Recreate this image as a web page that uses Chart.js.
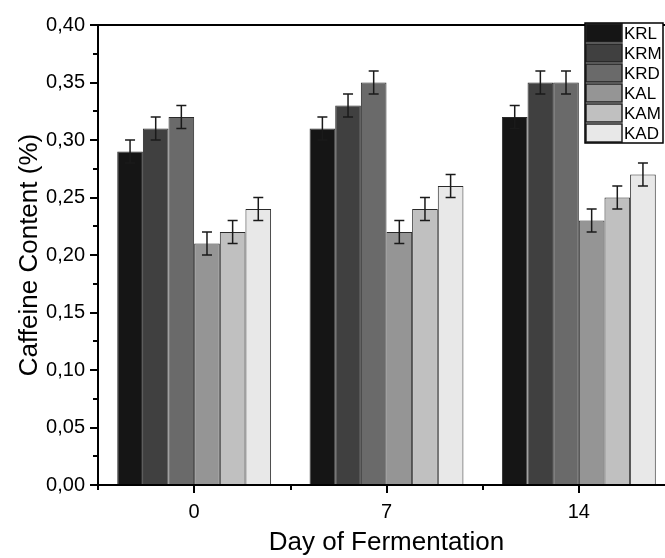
<!DOCTYPE html>
<html>
<head>
<meta charset="utf-8">
<script src="https://cdn.jsdelivr.net/npm/chart.js"></script>
<style>
  html, body { margin: 0; padding: 0; background: #fff; overflow: hidden; }
  #wrap { width: 680px; height: 558px; }
</style>
</head>
<body>
<div id="wrap"><canvas id="caffeineChart" width="680" height="558"></canvas></div>
<script>
// data
const days = ['0', '7', '14'];
const seriesNames = ['KRL', 'KRM', 'KRD', 'KAL', 'KAM', 'KAD'];
const KRL = [0.29, 0.31, 0.32];
const KRM = [0.31, 0.33, 0.35];
const KRD = [0.32, 0.35, 0.35];
const KAL = [0.21, 0.22, 0.23];
const KAM = [0.22, 0.24, 0.25];
const KAD = [0.24, 0.26, 0.27];
const errKRL = [0.01, 0.01, 0.01];
const errKRM = [0.01, 0.01, 0.01];
const errKRD = [0.01, 0.01, 0.01];
const errKAL = [0.01, 0.01, 0.01];
const errKAM = [0.01, 0.01, 0.01];
const errKAD = [0.01, 0.01, 0.01];

const values = [KRL, KRM, KRD, KAL, KAM, KAD];
const errors = [errKRL, errKRM, errKRD, errKAL, errKAM, errKAD];
const fills = ['#151515', '#404040', '#6a6a6a', '#959595', '#c0c0c0', '#e8e8e8'];

const FONT = '"Liberation Sans", Arial, sans-serif';

const extras = {
    id: 'extras',
    afterDatasetsDraw(chart) {
        const ctx = chart.ctx;
        const area = chart.chartArea;
        const x = chart.scales.x;
        const y = chart.scales.y;
        ctx.save();

        // error bars
        ctx.strokeStyle = '#1a1a1a';
        ctx.lineWidth = 1.5;
        chart.data.datasets.forEach((ds, i) => {
            const meta = chart.getDatasetMeta(i);
            meta.data.forEach((bar, j) => {
                const e = errors[i][j];
                const top = y.getPixelForValue(ds.data[j] + e);
                const bot = y.getPixelForValue(ds.data[j] - e);
                const cx = bar.x;
                ctx.beginPath();
                ctx.moveTo(cx, top); ctx.lineTo(cx, bot);
                ctx.moveTo(cx - 5, top); ctx.lineTo(cx + 5, top);
                ctx.moveTo(cx - 5, bot); ctx.lineTo(cx + 5, bot);
                ctx.stroke();
            });
        });

        // frame
        ctx.strokeStyle = '#000';
        ctx.lineWidth = 2;
        ctx.strokeRect(area.left, area.top, area.right - area.left, area.bottom - area.top);

        // y ticks, major and minor
        for (let v = 0; v <= 0.4001; v += 0.025) {
            const py = Math.round(y.getPixelForValue(v));
            const major = Math.round(v / 0.025) % 2 === 0;
            ctx.beginPath();
            ctx.moveTo(area.left, py);
            ctx.lineTo(area.left - (major ? 8 : 5), py);
            ctx.stroke();
        }
        // x ticks, major at categories, minor between
        days.forEach((d, j) => {
            const px = Math.round(x.getPixelForValue(j));
            ctx.beginPath();
            ctx.moveTo(px, area.bottom);
            ctx.lineTo(px, area.bottom + 8);
            ctx.stroke();
            const half = (j === 0 ? x.getPixelForValue(1) - px : px - x.getPixelForValue(j - 1)) / 2;
            const mx = Math.round(px - half);
            ctx.beginPath();
            ctx.moveTo(mx, area.bottom);
            ctx.lineTo(mx, area.bottom + 5);
            ctx.stroke();
        });

        // legend box in the upper right
        const rowH = 20;
        const lx = 585, ly = 23, lw = 78;
        ctx.fillStyle = '#fff';
        ctx.fillRect(lx, ly, lw, rowH * seriesNames.length);
        chart.data.datasets.forEach((ds, i) => {
            const ry = ly + i * rowH;
            ctx.fillStyle = ds.backgroundColor;
            ctx.fillRect(lx + 1, ry + 1, 36, rowH - 2);
            ctx.strokeStyle = '#222';
            ctx.lineWidth = 1.5;
            ctx.strokeRect(lx + 1, ry + 1, 36, rowH - 2);
            ctx.fillStyle = '#000';
            ctx.font = '17px ' + FONT;
            ctx.textBaseline = 'middle';
            ctx.textAlign = 'left';
            ctx.fillText(ds.label, lx + 39, ry + rowH / 2 + 1, 38);
        });
        ctx.strokeStyle = '#000';
        ctx.lineWidth = 1.5;
        ctx.strokeRect(lx, ly, lw, rowH * seriesNames.length);
        ctx.restore();
    }
};

new Chart(document.getElementById('caffeineChart'), {
    type: 'bar',
    data: {
        labels: days,
        datasets: seriesNames.map((name, i) => ({
            label: name,
            data: values[i],
            backgroundColor: fills[i],
            borderColor: '#2a2a2a',
            borderWidth: 1,
            categoryPercentage: 0.8,
            barPercentage: 1.0
        }))
    },
    options: {
        responsive: false,
        animation: false,
        layout: { padding: { top: 20, right: 5, left: 14, bottom: 0 } },
        plugins: {
            legend: { display: false },
            tooltip: { enabled: false }
        },
        scales: {
            x: {
                offset: true,
                grid: { display: false, drawTicks: false },
                border: { display: false },
                ticks: { color: '#000', font: { family: FONT, size: 20 }, padding: 15 },
                title: {
                    display: true, text: 'Day of Fermentation', color: '#000',
                    font: { family: FONT, size: 26 }, padding: { top: 2, bottom: 0 }
                },
                afterFit(scale) { scale.height = 73; }
            },
            y: {
                min: 0, max: 0.4,
                grid: { display: false, drawTicks: false },
                border: { display: false },
                ticks: {
                    stepSize: 0.05, color: '#000', padding: 13,
                    font: { family: FONT, size: 20 },
                    callback: v => v.toFixed(2).replace('.', ',')
                },
                title: {
                    display: true, text: 'Caffeine Content (%)', color: '#000',
                    font: { family: FONT, size: 26 }, padding: { top: 0, bottom: 4 }
                },
                afterFit(scale) { scale.width = 84; }
            }
        }
    },
    plugins: [extras]
});
</script>
</body>
</html>
